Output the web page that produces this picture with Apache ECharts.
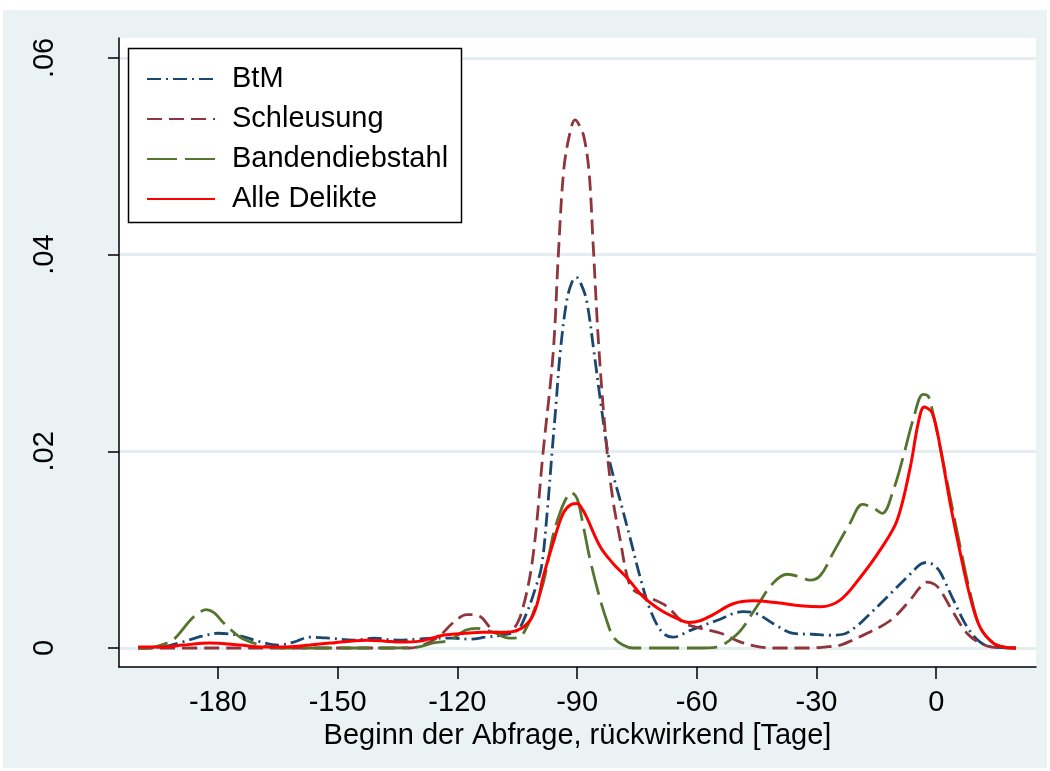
<!DOCTYPE html>
<html>
<head>
<meta charset="utf-8">
<script src="https://cdn.jsdelivr.net/npm/echarts@6/dist/echarts.min.js"></script>
<style>
  html, body { margin: 0; padding: 0; background: #ffffff; }
  #frame { position: absolute; left: 3px; top: 10px; width: 1044px; height: 758px; background: #eaf2f3; }
  #chart { position: absolute; left: 0; top: 0; width: 1050px; height: 771px; }
</style>
</head>
<body>
<div id="frame"></div>
<div id="chart"></div>
<script>
// Kernel density estimates of query start (days before), per offence type: [day, density]
const btm = [[-200,0],[-194,0.0001],[-189,0.0006],[-184,0.0012],[-180,0.0015],[-175,0.0013],[-170,0.0007],[-165,0.0003],[-161,0.0006],[-157,0.0011],[-152,0.0010],[-146,0.0008],[-141,0.0010],[-135,0.0008],[-130,0.0009],[-126,0.0010],[-121,0.0010],[-117,0.0009],[-113,0.0011],[-109,0.0013],[-105,0.0018],[-102.6,0.0036],[-100.5,0.0060],[-98.9,0.0083],[-97.5,0.0138],[-96.4,0.0193],[-95.3,0.0247],[-94.2,0.0302],[-92.6,0.0353],[-91.3,0.0372],[-90.2,0.0377],[-89,0.0370],[-87.6,0.0353],[-85.8,0.0302],[-84,0.0247],[-82,0.0193],[-79.2,0.0150],[-76.6,0.0110],[-74.2,0.0072],[-71.7,0.0039],[-68.7,0.0016],[-66,0.0011],[-61.6,0.0018],[-55,0.0028],[-48.4,0.0037],[-45,0.0035],[-40.9,0.0025],[-35.8,0.0015],[-31,0.0014],[-27,0.0013],[-23.3,0.0014],[-20,0.0022],[-17.3,0.0032],[-12.3,0.0052],[-7.3,0.0072],[-4,0.0085],[-2.3,0.0087],[-0.5,0.0084],[1,0.0077],[4.3,0.0049],[7.8,0.0021],[11,0.0006],[14,0.0001],[20,0]];

const schleusung = [[-200,0],[-180,0],[-160,0],[-140,0],[-132,0],[-128,0.0004],[-124.3,0.0013],[-121,0.0026],[-117.6,0.0034],[-114.3,0.0032],[-111.8,0.0021],[-109.3,0.0015],[-106,0.0019],[-103.5,0.0042],[-101,0.0095],[-98.5,0.0200],[-96,0.0300],[-94.7,0.0400],[-93.4,0.0484],[-92,0.0520],[-90.5,0.0537],[-89.5,0.0532],[-88.3,0.0520],[-87,0.0484],[-86,0.0412],[-84.5,0.0302],[-82.5,0.0200],[-81,0.0150],[-79.2,0.0110],[-77.4,0.0072],[-75.9,0.0059],[-71.7,0.0051],[-67.4,0.0042],[-63.4,0.0026],[-59,0.0020],[-54,0.0015],[-49,0.0006],[-44,0.0001],[-40,0],[-32,0],[-28,0.0001],[-24,0.0003],[-20.5,0.0009],[-17.3,0.0015],[-11.5,0.0028],[-6.5,0.0049],[-4,0.0062],[-2.3,0.0067],[-0.5,0.0065],[1,0.0059],[4.3,0.0036],[7.7,0.0015],[11,0.0005],[14,0.0001],[20,0]];

const bandendiebstahl = [[-200,0],[-196,0.0001],[-193.5,0.0004],[-191,0.0009],[-187,0.0028],[-185,0.0035],[-183,0.0039],[-181,0.0036],[-178.7,0.0026],[-174.5,0.0011],[-171,0.0005],[-167,0.0001],[-160,0],[-140,0],[-130,0.0001],[-126.3,0.0005],[-122,0.0008],[-118,0.0018],[-115,0.0020],[-111,0.0016],[-107,0.0010],[-104.5,0.0011],[-102.5,0.0022],[-101,0.0036],[-98.5,0.0066],[-96,0.0115],[-94.5,0.0135],[-93,0.0150],[-91.5,0.0158],[-90,0.0152],[-88.5,0.0125],[-86.7,0.0089],[-84.2,0.0049],[-82.5,0.0027],[-80.9,0.0011],[-78.5,0.0003],[-76,0],[-70,0],[-60,0],[-55,0.0001],[-52.4,0.0006],[-49,0.0018],[-45,0.0042],[-40.9,0.0066],[-37.3,0.0075],[-34,0.0072],[-31.6,0.0069],[-29,0.0074],[-25.8,0.0097],[-21.6,0.0127],[-18.5,0.0146],[-16,0.0143],[-13.5,0.0137],[-10.8,0.0160],[-8.3,0.0194],[-5.8,0.0232],[-3.3,0.0258],[-2,0.0256],[-1,0.0242],[1,0.0204],[3.5,0.0153],[6,0.0103],[8.5,0.0056],[11,0.0021],[14.3,0.0005],[17,0.0001],[20,0]];

const alleDelikte = [[-200,0.0001],[-193.5,0.0001],[-188.8,0.0003],[-182,0.0005],[-174.5,0.0003],[-168.7,0.0001],[-162.7,0.0001],[-157,0.0003],[-152,0.0005],[-147,0.0007],[-142.7,0.0008],[-138,0.0007],[-134.4,0.0006],[-129.4,0.0007],[-123.6,0.0013],[-118,0.0015],[-113.6,0.0016],[-109,0.0016],[-105,0.0018],[-101.8,0.0028],[-100,0.0045],[-98.5,0.0072],[-96,0.0107],[-93.5,0.0137],[-91.5,0.0146],[-90,0.0147],[-88.5,0.0140],[-87.6,0.0133],[-84.2,0.0103],[-81,0.0086],[-77.4,0.0071],[-73.4,0.0052],[-69.2,0.0039],[-64.9,0.0030],[-62,0.0026],[-59,0.0028],[-55.9,0.0034],[-50.9,0.0045],[-45.9,0.0048],[-39.8,0.0046],[-34,0.0043],[-29,0.0042],[-24,0.0049],[-19,0.0072],[-14,0.0100],[-9.8,0.0130],[-6.5,0.0184],[-4.5,0.0229],[-3,0.0245],[-1,0.0239],[1,0.0204],[3.5,0.0147],[6,0.0097],[8.5,0.0052],[11,0.0021],[14.3,0.0005],[17,0.0001],[20,0]];

const seriesNames = ['BtM', 'Schleusung', 'Bandendiebstahl', 'Alle Delikte'];
const xTicks = [-180, -150, -120, -90, -60, -30, 0];
const yTicks = [0, 0.02, 0.04, 0.06];
const xTitle = 'Beginn der Abfrage, rückwirkend [Tage]';

const FONT = '"Liberation Sans", Arial, sans-serif';
const FONT_SIZE = 29;
const GRID_COLOR = '#e4eef0';

const chart = echarts.init(document.getElementById('chart'), null, { renderer: 'canvas' });

function lineSeries(name, data, color, dash, width) {
  return {
    name: name,
    type: 'line',
    data: data,
    smooth: 0.35,
    symbol: 'none',
    clip: true,
    lineStyle: { color: color, width: width, type: dash, cap: 'butt' },
    itemStyle: { color: color },
    emphasis: { disabled: true }
  };
}

chart.setOption({
  backgroundColor: 'transparent',
  animation: false,
  textStyle: { fontFamily: FONT },
  grid: {
    left: 119, top: 38, right: 14, bottom: 104,
    show: true, backgroundColor: '#ffffff', borderWidth: 0
  },
  graphic: [{
    type: 'rect',
    z: 90,
    shape: { x: 128.5, y: 48.5, width: 333, height: 174 },
    style: { fill: '#ffffff', stroke: '#000000', lineWidth: 1.5 }
  }],
  legend: {
    z: 100,
    orient: 'vertical',
    left: 141, top: 59,
    itemWidth: 68, itemHeight: 14,
    itemGap: 10,
    data: seriesNames,
    itemStyle: { opacity: 0 },
    textStyle: { fontSize: FONT_SIZE, lineHeight: 30, color: '#000', fontFamily: FONT, padding: [0, 0, 0, 12] },
    selectedMode: false
  },
  xAxis: {
    type: 'value',
    min: -204.8, max: 25,
    name: xTitle,
    nameLocation: 'middle',
    nameGap: 50,
    nameTextStyle: { fontSize: FONT_SIZE, color: '#000', fontFamily: FONT },
    axisLine: { show: true, onZero: false, lineStyle: { color: '#000', width: 1.5 } },
    axisTick: { show: true, length: 12, customValues: xTicks, lineStyle: { color: '#000', width: 1.5 } },
    axisLabel: { customValues: xTicks, fontSize: FONT_SIZE, color: '#000', margin: 21, fontFamily: FONT },
    splitLine: { show: false }
  },
  yAxis: {
    type: 'value',
    min: -0.00193, max: 0.06203,
    axisLine: { show: true, onZero: false, lineStyle: { color: '#000', width: 1.5 } },
    axisTick: { show: true, length: 11, customValues: yTicks, lineStyle: { color: '#000', width: 1.5 } },
    axisLabel: {
      customValues: yTicks,
      rotate: 90,
      fontSize: FONT_SIZE, color: '#000', margin: 60, fontFamily: FONT,
      formatter: function (v) { return v === 0 ? '0' : String(+v.toFixed(2)).replace(/^0/, ''); }
    },
    splitLine: { show: true, lineStyle: { color: GRID_COLOR, width: 3 } }
  },
  series: [
    lineSeries(seriesNames[0], btm, '#1a476f', [14, 5, 2, 5], 2.8),
    lineSeries(seriesNames[1], schleusung, '#90353b', [15, 7], 2.8),
    lineSeries(seriesNames[2], bandendiebstahl, '#55752f', [30, 8], 2.8),
    lineSeries(seriesNames[3], alleDelikte, '#ff0000', 'solid', 3)
  ]
});
</script>
</body>
</html>
